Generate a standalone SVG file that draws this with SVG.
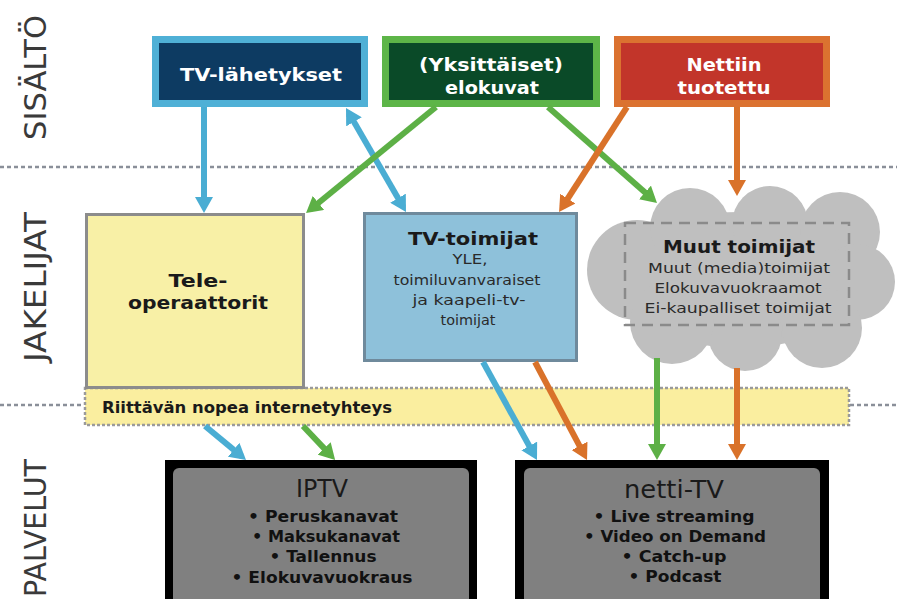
<svg xmlns="http://www.w3.org/2000/svg" width="897" height="599" viewBox="0 0 897 599">
<style>
  .sep { stroke: #8a8f99; stroke-width: 2.5; stroke-dasharray: 4 3; fill: none; }
  .side { font-family: "DejaVu Sans", "Liberation Sans", sans-serif; font-size: 30px; fill: #3a3a3a; }
  .wt { font-family: "DejaVu Sans", sans-serif; font-weight: bold; font-size: 17px; fill: #ffffff; text-anchor: middle; }
  .bt { font-family: "DejaVu Sans", sans-serif; font-weight: bold; font-size: 17px; fill: #1a1a1a; text-anchor: middle; }
  .st { font-family: "DejaVu Sans", sans-serif; font-size: 14px; fill: #2a2a2a; text-anchor: middle; }
  .svc { font-family: "DejaVu Sans", sans-serif; font-size: 24px; fill: #1a1a1a; text-anchor: middle; }
  .bul { font-family: "DejaVu Sans", sans-serif; font-weight: bold; font-size: 15px; fill: #111; text-anchor: middle; }
  .conn { fill: none; stroke-width: 6; }
  .blue { stroke: #4aadd3; }
  .green { stroke: #5db046; }
  .orange { stroke: #d9722a; }
</style>
<defs>
  <marker id="ab" viewBox="0 0 16 18" markerUnits="userSpaceOnUse" markerWidth="16" markerHeight="18" refX="10" refY="9" orient="auto-start-reverse"><path d="M0,0 L16,9 L0,18 z" fill="#4aadd3"/></marker>
  <marker id="ag" viewBox="0 0 16 18" markerUnits="userSpaceOnUse" markerWidth="16" markerHeight="18" refX="10" refY="9" orient="auto"><path d="M0,0 L16,9 L0,18 z" fill="#5db046"/></marker>
  <marker id="ao" viewBox="0 0 16 18" markerUnits="userSpaceOnUse" markerWidth="16" markerHeight="18" refX="10" refY="9" orient="auto"><path d="M0,0 L16,9 L0,18 z" fill="#d9722a"/></marker>
</defs>
<rect width="897" height="599" fill="#ffffff"/>

<g id="separators">
  <line class="sep" x1="0" y1="167" x2="897" y2="167"/>
  <line class="sep" x1="0" y1="405" x2="84" y2="405"/>
  <line class="sep" x1="850" y1="405" x2="897" y2="405"/>
</g>

<g id="section-labels">
  <text class="side" transform="translate(46,140) rotate(-90)" textLength="125" lengthAdjust="spacingAndGlyphs">SISÄLTÖ</text>
  <text class="side" transform="translate(46,362) rotate(-90)" textLength="150" lengthAdjust="spacingAndGlyphs">JAKELIJAT</text>
  <text class="side" transform="translate(46,597) rotate(-90)" textLength="138" lengthAdjust="spacingAndGlyphs">PALVELUT</text>
</g>

<g id="tv-lahetykset">
  <rect x="155.5" y="39.5" width="209" height="64" fill="#0d3b62" stroke="#4fb0d6" stroke-width="7"/>
  <text class="wt" x="261" y="81" textLength="162" lengthAdjust="spacingAndGlyphs">TV-lähetykset</text>
</g>

<g id="elokuvat">
  <rect x="385.5" y="39.5" width="211" height="64" fill="#0a4a28" stroke="#5db548" stroke-width="7"/>
  <text class="wt" x="491" y="71" textLength="144" lengthAdjust="spacingAndGlyphs">(Yksittäiset)</text>
  <text class="wt" x="492" y="94" textLength="94" lengthAdjust="spacingAndGlyphs">elokuvat</text>
</g>

<g id="nettiin-tuotettu">
  <rect x="617.5" y="39.5" width="209" height="64" fill="#c2352a" stroke="#db7230" stroke-width="7"/>
  <text class="wt" x="724" y="71" textLength="75" lengthAdjust="spacingAndGlyphs">Nettiin</text>
  <text class="wt" x="724" y="94" textLength="93" lengthAdjust="spacingAndGlyphs">tuotettu</text>
</g>

<g id="internetyhteys">
  <rect x="85" y="388" width="764" height="37" fill="#faee9f" stroke="#9a9a9a" stroke-width="2.5" stroke-dasharray="3 2"/>
  <text x="102" y="413" font-family="DejaVu Sans, sans-serif" font-weight="bold" font-size="15" fill="#1a1a1a" textLength="290" lengthAdjust="spacingAndGlyphs">Riittävän nopea internetyhteys</text>
</g>

<g id="teleoperaattorit">
  <rect x="86.5" y="214.5" width="217" height="173" fill="#f8f0a6" stroke="#8c8c8c" stroke-width="3"/>
  <text class="bt" x="198" y="287" textLength="59" lengthAdjust="spacingAndGlyphs">Tele-</text>
  <text class="bt" x="198" y="309" textLength="140" lengthAdjust="spacingAndGlyphs">operaattorit</text>
</g>

<g id="tv-toimijat">
  <rect x="364.5" y="213.5" width="212" height="147" fill="#8ec1da" stroke="#6f8a9c" stroke-width="3"/>
  <text class="bt" x="473" y="245" textLength="130" lengthAdjust="spacingAndGlyphs">TV-toimijat</text>
  <text class="st" x="470" y="264" textLength="35" lengthAdjust="spacingAndGlyphs">YLE,</text>
  <text class="st" x="467" y="285" textLength="147" lengthAdjust="spacingAndGlyphs">toimiluvanvaraiset</text>
  <text class="st" x="469" y="305" textLength="113" lengthAdjust="spacingAndGlyphs">ja kaapeli-tv-</text>
  <text class="st" x="468" y="325" textLength="55" lengthAdjust="spacingAndGlyphs">toimijat</text>
</g>

<g id="muut-toimijat">
  <g fill="#bfbfbf">
    <ellipse cx="740" cy="280" rx="125" ry="68"/>
    <circle cx="637" cy="270" r="50"/>
    <circle cx="690" cy="228" r="40"/>
    <circle cx="770" cy="224" r="38"/>
    <circle cx="840" cy="232" r="40"/>
    <circle cx="857" cy="282" r="38"/>
    <circle cx="822" cy="328" r="40"/>
    <circle cx="745" cy="334" r="37"/>
    <circle cx="672" cy="322" r="42"/>
  </g>
  <rect x="625" y="223" width="224" height="102" fill="none" stroke="#8a8a8a" stroke-width="2.5" stroke-dasharray="11 7"/>
  <text class="bt" x="739" y="253" textLength="152" lengthAdjust="spacingAndGlyphs">Muut toimijat</text>
  <text class="st" x="739" y="273" textLength="182" lengthAdjust="spacingAndGlyphs">Muut (media)toimijat</text>
  <text class="st" x="738" y="293" textLength="167" lengthAdjust="spacingAndGlyphs">Elokuvavuokraamot</text>
  <text class="st" x="738" y="313" textLength="187" lengthAdjust="spacingAndGlyphs">Ei-kaupalliset toimijat</text>
</g>

<g id="iptv">
  <rect x="165" y="460" width="312" height="150" fill="#000000"/>
  <rect x="173" y="468" width="296" height="140" rx="6" fill="#808080"/>
  <text class="svc" x="322" y="497" textLength="52" lengthAdjust="spacingAndGlyphs">IPTV</text>
  <text class="bul" x="323" y="522" textLength="150" lengthAdjust="spacingAndGlyphs">• Peruskanavat</text>
  <text class="bul" x="326" y="542" textLength="148" lengthAdjust="spacingAndGlyphs">• Maksukanavat</text>
  <text class="bul" x="323" y="562" textLength="107" lengthAdjust="spacingAndGlyphs">• Tallennus</text>
  <text class="bul" x="322" y="583" textLength="181" lengthAdjust="spacingAndGlyphs">• Elokuvavuokraus</text>
</g>

<g id="netti-tv">
  <rect x="515" y="460" width="314" height="150" fill="#000000"/>
  <rect x="524" y="468" width="296" height="140" rx="6" fill="#808080"/>
  <text class="svc" x="674" y="498" textLength="100" lengthAdjust="spacingAndGlyphs">netti-TV</text>
  <text class="bul" x="674" y="522" textLength="161" lengthAdjust="spacingAndGlyphs">• Live streaming</text>
  <text class="bul" x="675" y="542" textLength="182" lengthAdjust="spacingAndGlyphs">• Video on Demand</text>
  <text class="bul" x="674" y="562" textLength="105" lengthAdjust="spacingAndGlyphs">• Catch-up</text>
  <text class="bul" x="675" y="582" textLength="93" lengthAdjust="spacingAndGlyphs">• Podcast</text>
</g>

<g id="connectors">
  <line class="conn blue" x1="204" y1="107" x2="204" y2="207" marker-end="url(#ab)"/>
  <line class="conn blue" x1="349" y1="113.2" x2="403" y2="206.8" marker-start="url(#ab)" marker-end="url(#ab)"/>
  <line class="conn green" x1="436" y1="107" x2="310.7" y2="209.2" marker-end="url(#ag)"/>
  <line class="conn green" x1="548" y1="107" x2="652.5" y2="199" marker-end="url(#ag)"/>
  <line class="conn orange" x1="627" y1="107" x2="562.3" y2="207" marker-end="url(#ao)"/>
  <line class="conn orange" x1="737" y1="107" x2="737" y2="190" marker-end="url(#ao)"/>
  <line class="conn blue" x1="205" y1="426" x2="241.4" y2="456.1" marker-end="url(#ab)"/>
  <line class="conn green" x1="303" y1="426" x2="331" y2="455.6" marker-end="url(#ag)"/>
  <line class="conn blue" x1="483" y1="362" x2="534.1" y2="454.7" marker-end="url(#ab)"/>
  <line class="conn orange" x1="535" y1="362" x2="584.2" y2="454.7" marker-end="url(#ao)"/>
  <line class="conn green" x1="657" y1="358" x2="657" y2="454" marker-end="url(#ag)"/>
  <line class="conn orange" x1="737" y1="368" x2="737" y2="454" marker-end="url(#ao)"/>
</g>
</svg>
